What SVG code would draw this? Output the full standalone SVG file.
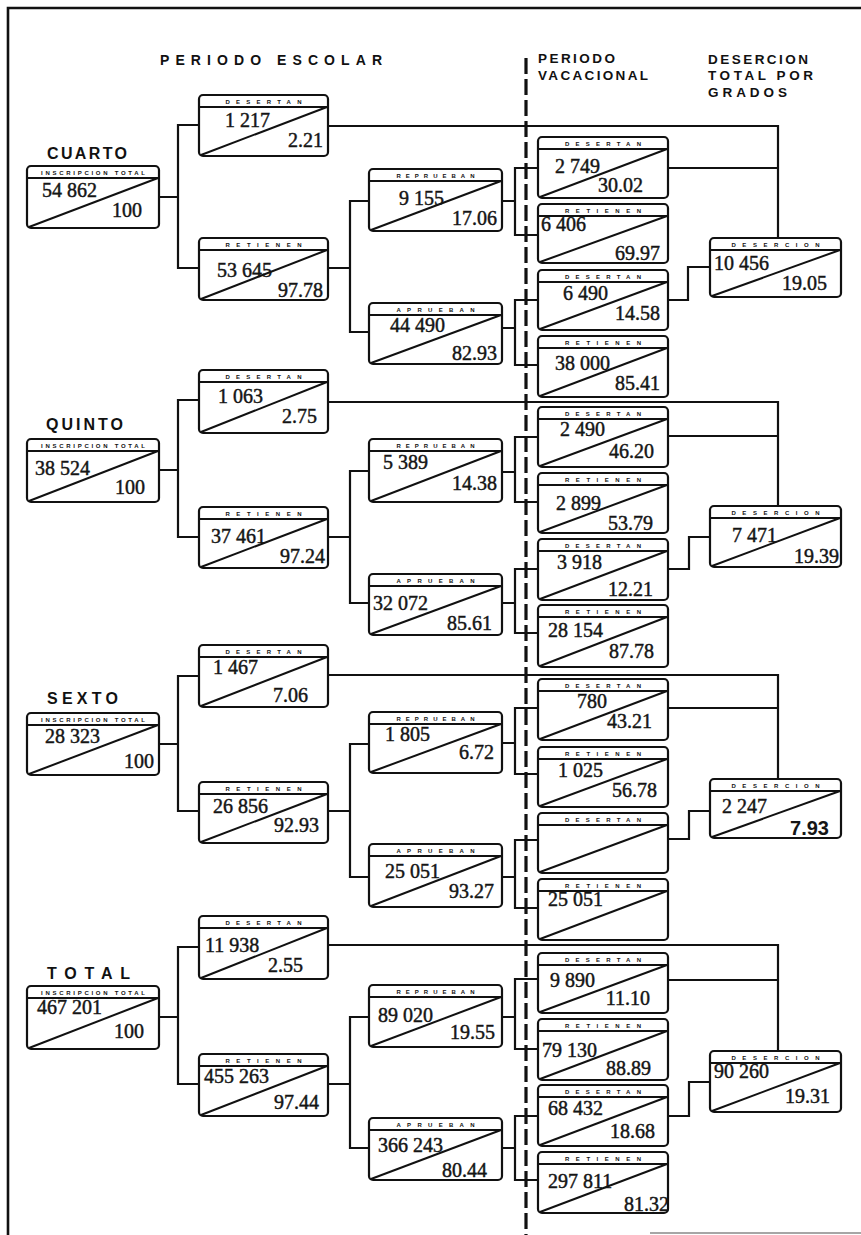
<svg xmlns="http://www.w3.org/2000/svg" width="861" height="1235" viewBox="0 0 861 1235">
<style>
.bg{fill:#fff}
.frame{stroke:#111;stroke-width:2.6;fill:none}
.c{stroke:#111;stroke-width:2.2;fill:none;stroke-linecap:square}
.dash{stroke:#111;stroke-width:3.2;fill:none;stroke-dasharray:16 5}
.b{fill:#fff;stroke:#111;stroke-width:2.2}
.h{stroke:#111;stroke-width:2}
.d{stroke:#111;stroke-width:2}
.lbl{font-family:"Liberation Sans",Arial,sans-serif;font-weight:bold;font-size:6px;fill:#111;text-anchor:middle}
.n{font-family:"Liberation Serif","Times New Roman",serif;font-size:20px;fill:#151515;stroke:#151515;stroke-width:0.45}
.p{font-family:"Liberation Serif","Times New Roman",serif;font-size:20px;fill:#151515;stroke:#151515;stroke-width:0.45;text-anchor:end}
.pb{font-family:"Liberation Sans",Arial,sans-serif;font-weight:bold;font-size:20px;fill:#151515;text-anchor:end}
.t{font-family:"Liberation Sans",Arial,sans-serif;font-weight:bold;font-size:14px;fill:#111}
.t2{font-family:"Liberation Sans",Arial,sans-serif;font-weight:bold;font-size:13.5px;fill:#111}
.g{font-family:"Liberation Sans",Arial,sans-serif;font-weight:bold;font-size:16px;fill:#111}
</style>
<rect class="bg" x="0" y="0" width="861" height="1235"/>
<g id="frame">
<path class="frame" d="M8 1235 V8 H861"/>
<path d="M650 1233 H861" stroke="#888" stroke-width="1.5"/>
</g>
<g id="titles">
<text class="t" x="160" y="65" textLength="222" lengthAdjust="spacing">PERIODO ESCOLAR</text>
<text class="t2" x="538" y="63" textLength="77" lengthAdjust="spacing">PERIODO</text>
<text class="t2" x="538" y="80" textLength="110" lengthAdjust="spacing">VACACIONAL</text>
<text class="t2" x="708" y="64" textLength="100" lengthAdjust="spacing">DESERCION</text>
<text class="t2" x="708" y="80" textLength="105" lengthAdjust="spacing">TOTAL POR</text>
<text class="t2" x="708" y="97" textLength="79" lengthAdjust="spacing">GRADOS</text>
<text class="g" x="47" y="159" textLength="80" lengthAdjust="spacing">CUARTO</text>
<text class="g" x="46" y="430" textLength="77" lengthAdjust="spacing">QUINTO</text>
<text class="g" x="47" y="704" textLength="71" lengthAdjust="spacing">SEXTO</text>
<text class="g" x="47" y="979" textLength="83" lengthAdjust="spacing">TOTAL</text>
</g>
<g id="connectors">
<path class="c" d="M159 197 H178 M178 125 V268 M178 125 H199 M178 268 H199 M328 126 H778 V238 M328 268 H350 M350 201 V332 M350 201 H369 M350 332 H369 M502 201 H515 M515 168 V235 M515 168 H538 M515 235 H538 M502 328 H515 M515 300 V365 M515 300 H538 M515 365 H538 M668 168 H778 M668 300 H688 V267 H710"/>
<path class="c" d="M159 470 H178 M178 400 V537 M178 400 H199 M178 537 H199 M328 402 H778 V506 M328 537 H350 M350 471 V603 M350 471 H369 M350 603 H369 M502 472 H515 M515 437 V502 M515 437 H538 M515 502 H538 M502 603 H515 M515 569 V633 M515 569 H538 M515 633 H538 M668 436 H778 M668 569 H689 V537 H710"/>
<path class="c" d="M159 744 H178 M178 676 V811 M178 676 H199 M178 811 H199 M328 675 H778 V779 M328 811 H350 M350 744 V877 M350 744 H369 M350 877 H369 M502 743 H515 M515 708 V774 M515 708 H538 M515 774 H538 M502 877 H515 M515 840 V908 M515 840 H538 M515 908 H538 M668 708 H778 M668 839 H689 V811 H710"/>
<path class="c" d="M159 1017 H178 M178 947 V1084 M178 947 H199 M178 1084 H199 M328 945 H778 V1051 M328 1084 H350 M350 1017 V1148 M350 1017 H369 M350 1148 H369 M502 1017 H515 M515 979 V1049 M515 979 H538 M515 1049 H538 M502 1148 H515 M515 1116 V1180 M515 1116 H538 M515 1180 H538 M668 980 H778 M668 1116 H689 V1082 H710"/>
<path class="dash" d="M526 58 V1235"/>
</g>

<g id="cuarto-inscripcion"><rect class="b" x="27" y="166" width="132" height="62" rx="4"/><line class="h" x1="27" y1="178" x2="159" y2="178"/><line class="d" x1="29" y1="227" x2="158" y2="178"/><text class="lbl" x="93" y="175" textLength="104" lengthAdjust="spacing">INSCRIPCION TOTAL</text><text class="n" x="42" y="197">54 862</text><text class="p" x="142" y="217">100</text></g>
<g id="quinto-inscripcion"><rect class="b" x="27" y="439" width="132" height="63" rx="4"/><line class="h" x1="27" y1="451" x2="159" y2="451"/><line class="d" x1="29" y1="501" x2="158" y2="451"/><text class="lbl" x="93" y="448" textLength="104" lengthAdjust="spacing">INSCRIPCION TOTAL</text><text class="n" x="35" y="475">38 524</text><text class="p" x="145" y="494">100</text></g>
<g id="sexto-inscripcion"><rect class="b" x="27" y="713" width="132" height="62" rx="4"/><line class="h" x1="27" y1="725" x2="159" y2="725"/><line class="d" x1="29" y1="774" x2="158" y2="725"/><text class="lbl" x="93" y="722" textLength="104" lengthAdjust="spacing">INSCRIPCION TOTAL</text><text class="n" x="45" y="743">28 323</text><text class="p" x="154" y="768">100</text></g>
<g id="total-inscripcion"><rect class="b" x="27" y="986" width="132" height="63" rx="4"/><line class="h" x1="27" y1="998" x2="159" y2="998"/><line class="d" x1="29" y1="1048" x2="158" y2="998"/><text class="lbl" x="93" y="995" textLength="104" lengthAdjust="spacing">INSCRIPCION TOTAL</text><text class="n" x="37" y="1014">467 201</text><text class="p" x="144" y="1038">100</text></g>

<g id="cuarto-desertan"><rect class="b" x="199" y="95" width="129" height="61" rx="4"/><line class="h" x1="199" y1="107" x2="328" y2="107"/><line class="d" x1="201" y1="155" x2="327" y2="107"/><text class="lbl" x="263.5" y="104" textLength="76" lengthAdjust="spacing">DESERTAN</text><text class="n" x="225" y="127">1 217</text><text class="p" x="323" y="147">2.21</text></g>
<g id="cuarto-retienen"><rect class="b" x="199" y="238" width="129" height="62" rx="4"/><line class="h" x1="199" y1="250" x2="328" y2="250"/><line class="d" x1="201" y1="299" x2="327" y2="250"/><text class="lbl" x="263.5" y="247" textLength="76" lengthAdjust="spacing">RETIENEN</text><text class="n" x="217" y="277">53 645</text><text class="p" x="323" y="297">97.78</text></g>
<g id="quinto-desertan"><rect class="b" x="199" y="370" width="129" height="63" rx="4"/><line class="h" x1="199" y1="382" x2="328" y2="382"/><line class="d" x1="201" y1="432" x2="327" y2="382"/><text class="lbl" x="263.5" y="379" textLength="76" lengthAdjust="spacing">DESERTAN</text><text class="n" x="218" y="403">1 063</text><text class="p" x="317" y="423">2.75</text></g>
<g id="quinto-retienen"><rect class="b" x="199" y="507" width="129" height="61" rx="4"/><line class="h" x1="199" y1="519" x2="328" y2="519"/><line class="d" x1="201" y1="567" x2="327" y2="519"/><text class="lbl" x="263.5" y="516" textLength="76" lengthAdjust="spacing">RETIENEN</text><text class="n" x="211" y="543">37 461</text><text class="p" x="325" y="563">97.24</text></g>
<g id="sexto-desertan"><rect class="b" x="199" y="645" width="129" height="62" rx="4"/><line class="h" x1="199" y1="657" x2="328" y2="657"/><line class="d" x1="201" y1="706" x2="327" y2="657"/><text class="lbl" x="263.5" y="654" textLength="76" lengthAdjust="spacing">DESERTAN</text><text class="n" x="213" y="674">1 467</text><text class="p" x="308" y="702">7.06</text></g>
<g id="sexto-retienen"><rect class="b" x="199" y="782" width="129" height="61" rx="4"/><line class="h" x1="199" y1="794" x2="328" y2="794"/><line class="d" x1="201" y1="842" x2="327" y2="794"/><text class="lbl" x="263.5" y="791" textLength="76" lengthAdjust="spacing">RETIENEN</text><text class="n" x="213" y="813">26 856</text><text class="p" x="319" y="832">92.93</text></g>
<g id="total-desertan"><rect class="b" x="199" y="916" width="129" height="63" rx="4"/><line class="h" x1="199" y1="928" x2="328" y2="928"/><line class="d" x1="201" y1="978" x2="327" y2="928"/><text class="lbl" x="263.5" y="925" textLength="76" lengthAdjust="spacing">DESERTAN</text><text class="n" x="205" y="952">11 938</text><text class="p" x="303" y="972">2.55</text></g>
<g id="total-retienen"><rect class="b" x="199" y="1054" width="129" height="62" rx="4"/><line class="h" x1="199" y1="1066" x2="328" y2="1066"/><line class="d" x1="201" y1="1115" x2="327" y2="1066"/><text class="lbl" x="263.5" y="1063" textLength="76" lengthAdjust="spacing">RETIENEN</text><text class="n" x="204" y="1083">455 263</text><text class="p" x="319" y="1109">97.44</text></g>

<g id="cuarto-reprueban"><rect class="b" x="369" y="169" width="133" height="62" rx="4"/><line class="h" x1="369" y1="181" x2="502" y2="181"/><line class="d" x1="371" y1="230" x2="501" y2="181"/><text class="lbl" x="435.5" y="178" textLength="78" lengthAdjust="spacing">REPRUEBAN</text><text class="n" x="399" y="205">9 155</text><text class="p" x="497" y="225">17.06</text></g>
<g id="cuarto-aprueban"><rect class="b" x="369" y="303" width="133" height="61" rx="4"/><line class="h" x1="369" y1="315" x2="502" y2="315"/><line class="d" x1="371" y1="363" x2="501" y2="315"/><text class="lbl" x="435.5" y="312" textLength="78" lengthAdjust="spacing">APRUEBAN</text><text class="n" x="390" y="332">44 490</text><text class="p" x="497" y="360">82.93</text></g>
<g id="quinto-reprueban"><rect class="b" x="369" y="439" width="133" height="63" rx="4"/><line class="h" x1="369" y1="451" x2="502" y2="451"/><line class="d" x1="371" y1="501" x2="501" y2="451"/><text class="lbl" x="435.5" y="448" textLength="78" lengthAdjust="spacing">REPRUEBAN</text><text class="n" x="383" y="469">5 389</text><text class="p" x="497" y="490">14.38</text></g>
<g id="quinto-aprueban"><rect class="b" x="369" y="574" width="133" height="61" rx="4"/><line class="h" x1="369" y1="586" x2="502" y2="586"/><line class="d" x1="371" y1="634" x2="501" y2="586"/><text class="lbl" x="435.5" y="583" textLength="78" lengthAdjust="spacing">APRUEBAN</text><text class="n" x="373" y="610">32 072</text><text class="p" x="492" y="630">85.61</text></g>
<g id="sexto-reprueban"><rect class="b" x="369" y="712" width="133" height="61" rx="4"/><line class="h" x1="369" y1="724" x2="502" y2="724"/><line class="d" x1="371" y1="772" x2="501" y2="724"/><text class="lbl" x="435.5" y="721" textLength="78" lengthAdjust="spacing">REPRUEBAN</text><text class="n" x="385" y="741">1 805</text><text class="p" x="494" y="759">6.72</text></g>
<g id="sexto-aprueban"><rect class="b" x="369" y="844" width="133" height="63" rx="4"/><line class="h" x1="369" y1="856" x2="502" y2="856"/><line class="d" x1="371" y1="906" x2="501" y2="856"/><text class="lbl" x="435.5" y="853" textLength="78" lengthAdjust="spacing">APRUEBAN</text><text class="n" x="385" y="878">25 051</text><text class="p" x="494" y="898">93.27</text></g>
<g id="total-reprueban"><rect class="b" x="369" y="985" width="133" height="62" rx="4"/><line class="h" x1="369" y1="997" x2="502" y2="997"/><line class="d" x1="371" y1="1046" x2="501" y2="997"/><text class="lbl" x="435.5" y="994" textLength="78" lengthAdjust="spacing">REPRUEBAN</text><text class="n" x="378" y="1022">89 020</text><text class="p" x="495" y="1039">19.55</text></g>
<g id="total-aprueban"><rect class="b" x="369" y="1118" width="133" height="62" rx="4"/><line class="h" x1="369" y1="1130" x2="502" y2="1130"/><line class="d" x1="371" y1="1179" x2="501" y2="1130"/><text class="lbl" x="435.5" y="1127" textLength="78" lengthAdjust="spacing">APRUEBAN</text><text class="n" x="378" y="1152">366 243</text><text class="p" x="487" y="1177">80.44</text></g>

<g id="cuarto-vac-desertan-1"><rect class="b" x="538" y="137" width="130" height="61" rx="4"/><line class="h" x1="538" y1="149" x2="668" y2="149"/><line class="d" x1="540" y1="197" x2="667" y2="149"/><text class="lbl" x="603" y="146" textLength="76" lengthAdjust="spacing">DESERTAN</text><text class="n" x="555" y="173">2 749</text><text class="p" x="643" y="192">30.02</text></g>
<g id="cuarto-vac-retienen-1"><rect class="b" x="538" y="204" width="130" height="59" rx="4"/><line class="h" x1="538" y1="216" x2="668" y2="216"/><line class="d" x1="540" y1="262" x2="667" y2="216"/><text class="lbl" x="603" y="213" textLength="76" lengthAdjust="spacing">RETIENEN</text><text class="n" x="541" y="231">6 406</text><text class="p" x="660" y="260">69.97</text></g>
<g id="cuarto-vac-desertan-2"><rect class="b" x="538" y="270" width="130" height="60" rx="4"/><line class="h" x1="538" y1="282" x2="668" y2="282"/><line class="d" x1="540" y1="329" x2="667" y2="282"/><text class="lbl" x="603" y="279" textLength="76" lengthAdjust="spacing">DESERTAN</text><text class="n" x="563" y="300">6 490</text><text class="p" x="660" y="320">14.58</text></g>
<g id="cuarto-vac-retienen-2"><rect class="b" x="538" y="336" width="130" height="61" rx="4"/><line class="h" x1="538" y1="348" x2="668" y2="348"/><line class="d" x1="540" y1="396" x2="667" y2="348"/><text class="lbl" x="603" y="345" textLength="76" lengthAdjust="spacing">RETIENEN</text><text class="n" x="555" y="370">38 000</text><text class="p" x="660" y="390">85.41</text></g>
<g id="quinto-vac-desertan-1"><rect class="b" x="538" y="407" width="130" height="60" rx="4"/><line class="h" x1="538" y1="419" x2="668" y2="419"/><line class="d" x1="540" y1="466" x2="667" y2="419"/><text class="lbl" x="603" y="416" textLength="76" lengthAdjust="spacing">DESERTAN</text><text class="n" x="560" y="436">2 490</text><text class="p" x="654" y="458">46.20</text></g>
<g id="quinto-vac-retienen-1"><rect class="b" x="538" y="473" width="130" height="60" rx="4"/><line class="h" x1="538" y1="485" x2="668" y2="485"/><line class="d" x1="540" y1="532" x2="667" y2="485"/><text class="lbl" x="603" y="482" textLength="76" lengthAdjust="spacing">RETIENEN</text><text class="n" x="556" y="510">2 899</text><text class="p" x="653" y="530">53.79</text></g>
<g id="quinto-vac-desertan-2"><rect class="b" x="538" y="539" width="130" height="61" rx="4"/><line class="h" x1="538" y1="551" x2="668" y2="551"/><line class="d" x1="540" y1="599" x2="667" y2="551"/><text class="lbl" x="603" y="548" textLength="76" lengthAdjust="spacing">DESERTAN</text><text class="n" x="557" y="569">3 918</text><text class="p" x="653" y="596">12.21</text></g>
<g id="quinto-vac-retienen-2"><rect class="b" x="538" y="605" width="130" height="62" rx="4"/><line class="h" x1="538" y1="617" x2="668" y2="617"/><line class="d" x1="540" y1="666" x2="667" y2="617"/><text class="lbl" x="603" y="614" textLength="76" lengthAdjust="spacing">RETIENEN</text><text class="n" x="548" y="637">28 154</text><text class="p" x="654" y="658">87.78</text></g>
<g id="sexto-vac-desertan-1"><rect class="b" x="538" y="679" width="130" height="61" rx="4"/><line class="h" x1="538" y1="691" x2="668" y2="691"/><line class="d" x1="540" y1="739" x2="667" y2="691"/><text class="lbl" x="603" y="688" textLength="76" lengthAdjust="spacing">DESERTAN</text><text class="n" x="577" y="708">780</text><text class="p" x="652" y="728">43.21</text></g>
<g id="sexto-vac-retienen-1"><rect class="b" x="538" y="747" width="130" height="60" rx="4"/><line class="h" x1="538" y1="759" x2="668" y2="759"/><line class="d" x1="540" y1="806" x2="667" y2="759"/><text class="lbl" x="603" y="756" textLength="76" lengthAdjust="spacing">RETIENEN</text><text class="n" x="558" y="777">1 025</text><text class="p" x="657" y="797">56.78</text></g>
<g id="sexto-vac-desertan-2"><rect class="b" x="538" y="813" width="130" height="60" rx="4"/><line class="h" x1="538" y1="825" x2="668" y2="825"/><line class="d" x1="540" y1="872" x2="667" y2="825"/><text class="lbl" x="603" y="822" textLength="76" lengthAdjust="spacing">DESERTAN</text></g>
<g id="sexto-vac-retienen-2"><rect class="b" x="538" y="879" width="130" height="61" rx="4"/><line class="h" x1="538" y1="891" x2="668" y2="891"/><line class="d" x1="540" y1="939" x2="667" y2="891"/><text class="lbl" x="603" y="888" textLength="76" lengthAdjust="spacing">RETIENEN</text><text class="n" x="548" y="906">25 051</text></g>
<g id="total-vac-desertan-1"><rect class="b" x="538" y="953" width="130" height="60" rx="4"/><line class="h" x1="538" y1="965" x2="668" y2="965"/><line class="d" x1="540" y1="1012" x2="667" y2="965"/><text class="lbl" x="603" y="962" textLength="76" lengthAdjust="spacing">DESERTAN</text><text class="n" x="550" y="987">9 890</text><text class="p" x="650" y="1005">11.10</text></g>
<g id="total-vac-retienen-1"><rect class="b" x="538" y="1019" width="130" height="61" rx="4"/><line class="h" x1="538" y1="1031" x2="668" y2="1031"/><line class="d" x1="540" y1="1079" x2="667" y2="1031"/><text class="lbl" x="603" y="1028" textLength="76" lengthAdjust="spacing">RETIENEN</text><text class="n" x="542" y="1057">79 130</text><text class="p" x="651" y="1075">88.89</text></g>
<g id="total-vac-desertan-2"><rect class="b" x="538" y="1085" width="130" height="61" rx="4"/><line class="h" x1="538" y1="1097" x2="668" y2="1097"/><line class="d" x1="540" y1="1145" x2="667" y2="1097"/><text class="lbl" x="603" y="1094" textLength="76" lengthAdjust="spacing">DESERTAN</text><text class="n" x="548" y="1115">68 432</text><text class="p" x="655" y="1138">18.68</text></g>
<g id="total-vac-retienen-2"><rect class="b" x="538" y="1152" width="130" height="61" rx="4"/><line class="h" x1="538" y1="1164" x2="668" y2="1164"/><line class="d" x1="540" y1="1212" x2="667" y2="1164"/><text class="lbl" x="603" y="1161" textLength="76" lengthAdjust="spacing">RETIENEN</text><text class="n" x="548" y="1188">297 811</text><text class="p" x="669" y="1211">81.32</text></g>

<g id="cuarto-desercion"><rect class="b" x="710" y="238" width="131" height="59" rx="4"/><line class="h" x1="710" y1="250" x2="841" y2="250"/><line class="d" x1="712" y1="296" x2="840" y2="250"/><text class="lbl" x="775.5" y="247" textLength="88" lengthAdjust="spacing">DESERCION</text><text class="n" x="714" y="270">10 456</text><text class="p" x="827" y="290">19.05</text></g>
<g id="quinto-desercion"><rect class="b" x="710" y="506" width="131" height="61" rx="4"/><line class="h" x1="710" y1="518" x2="841" y2="518"/><line class="d" x1="712" y1="566" x2="840" y2="518"/><text class="lbl" x="775.5" y="515" textLength="88" lengthAdjust="spacing">DESERCION</text><text class="n" x="732" y="542">7 471</text><text class="p" x="839" y="563">19.39</text></g>
<g id="sexto-desercion"><rect class="b" x="710" y="779" width="131" height="59" rx="4"/><line class="h" x1="710" y1="791" x2="841" y2="791"/><line class="d" x1="712" y1="837" x2="840" y2="791"/><text class="lbl" x="775.5" y="788" textLength="88" lengthAdjust="spacing">DESERCION</text><text class="n" x="722" y="813">2 247</text><text class="pb" x="829" y="835">7.93</text></g>
<g id="total-desercion"><rect class="b" x="710" y="1051" width="131" height="61" rx="4"/><line class="h" x1="710" y1="1063" x2="841" y2="1063"/><line class="d" x1="712" y1="1111" x2="840" y2="1063"/><text class="lbl" x="775.5" y="1060" textLength="88" lengthAdjust="spacing">DESERCION</text><text class="n" x="714" y="1078">90 260</text><text class="p" x="830" y="1103">19.31</text></g>
</svg>
